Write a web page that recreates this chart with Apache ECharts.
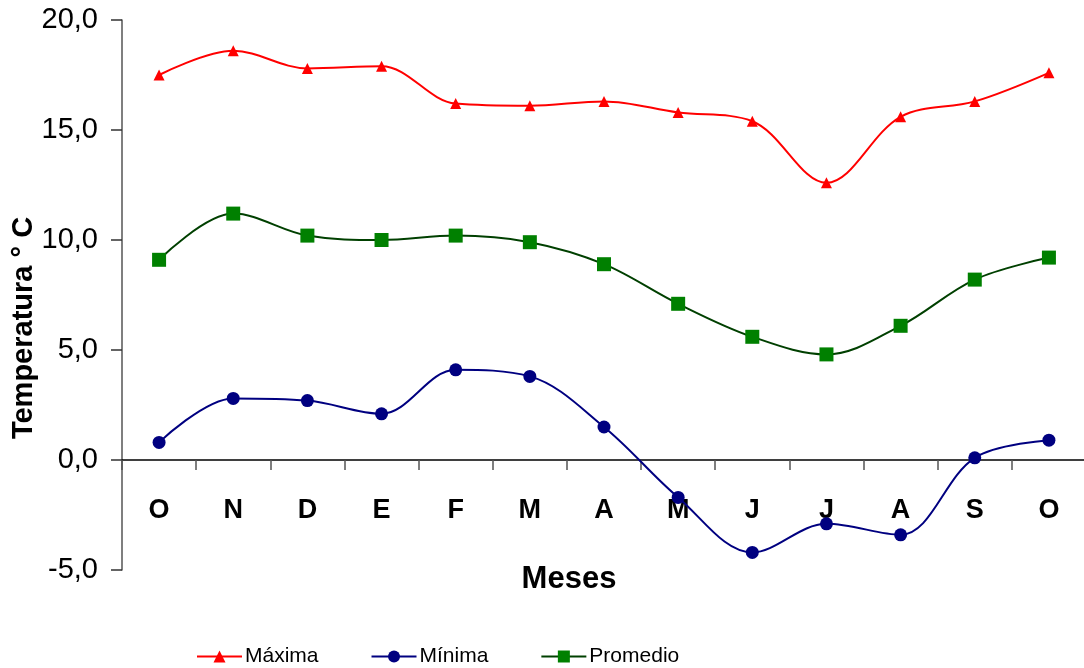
<!DOCTYPE html>
<html>
<head>
<meta charset="utf-8">
<script src="https://cdn.jsdelivr.net/npm/echarts@6/dist/echarts.min.js"></script>
<style>
  html, body { margin: 0; padding: 0; background: #fff; }
  #chart { width: 1084px; height: 668px; }
</style>
</head>
<body>
<div id="chart"></div>
<script>
// Monthly temperatures (°C), October to October
const meses = ["O", "N", "D", "E", "F", "M", "A", "M", "J", "J", "A", "S", "O"]
const maxima = [17.5, 18.6, 17.8, 17.9, 16.2, 16.1, 16.3, 15.8, 15.4, 12.6, 15.6, 16.3, 17.6]
const minima = [0.8, 2.8, 2.7, 2.1, 4.1, 3.8, 1.5, -1.7, -4.2, -2.9, -3.4, 0.1, 0.9]
const promedio = [9.1, 11.2, 10.2, 10.0, 10.2, 9.9, 8.9, 7.1, 5.6, 4.8, 6.1, 8.2, 9.2]

const FONT = "'Liberation Sans', Arial, sans-serif"

const chart = echarts.init(document.getElementById("chart"), null, { renderer: "canvas" })

const line = (name, data, lineColor, markColor, symbol, size) => ({
  name,
  type: "line",
  data,
  smooth: 0.35,
  symbol,
  symbolSize: size,
  lineStyle: { color: lineColor, width: 2 },
  itemStyle: { color: markColor },
  emphasis: { disabled: true },
})

chart.setOption({
  animation: false,
  textStyle: { fontFamily: FONT },
  grid: { left: 122, right: -2, top: 20, bottom: 98, containLabel: false, outerBoundsMode: "none" },
  legend: {
    top: 646,
    left: 196,
    padding: 0,
    itemWidth: 45,
    itemHeight: 15,
    itemGap: 52,
    textStyle: { fontFamily: FONT, fontSize: 21, color: "#000", padding: [0, 0, 0, -2] },
    data: ["Máxima", "Mínima", "Promedio"],
  },
  xAxis: {
    type: "category",
    data: meses,
    boundaryGap: true,
    name: "Meses",
    nameLocation: "middle",
    nameGap: -6,
    nameMoveOverlap: false,
    nameTextStyle: { fontFamily: FONT, fontSize: 31, fontWeight: "bold", color: "#000", padding: [0, 70, 0, 0] },
    axisLine: { onZero: true, lineStyle: { color: "#000", width: 1.5 } },
    axisTick: { show: true, length: 10, lineStyle: { color: "#555", width: 1.5 } },
    axisLabel: { fontFamily: FONT, fontSize: 27, fontWeight: "bold", color: "#000", margin: -73 },
  },
  yAxis: {
    type: "value",
    min: -5,
    max: 20,
    interval: 5,
    name: "Temperatura ° C",
    nameLocation: "middle",
    nameGap: 84,
    nameMoveOverlap: false,
    nameTextStyle: { fontFamily: FONT, fontSize: 29, fontWeight: "bold", color: "#000", padding: [0, 66, 0, 0] },
    axisLine: { show: true, lineStyle: { color: "#555", width: 1.5 } },
    axisTick: { show: true, length: 11, lineStyle: { color: "#333", width: 1.5 } },
    splitLine: { show: false },
    axisLabel: {
      fontFamily: FONT,
      fontSize: 29,
      color: "#000",
      margin: 24,
      formatter: (v) => v.toFixed(1).replace(".", ","),
    },
  },
  series: [
    line("Máxima", maxima, "#ff0000", "#ff0000", "triangle", 11),
    line("Mínima", minima, "#000080", "#000080", "circle", 13),
    line("Promedio", promedio, "#004000", "#008000", "rect", 14),
  ],
})
</script>
</body>
</html>
